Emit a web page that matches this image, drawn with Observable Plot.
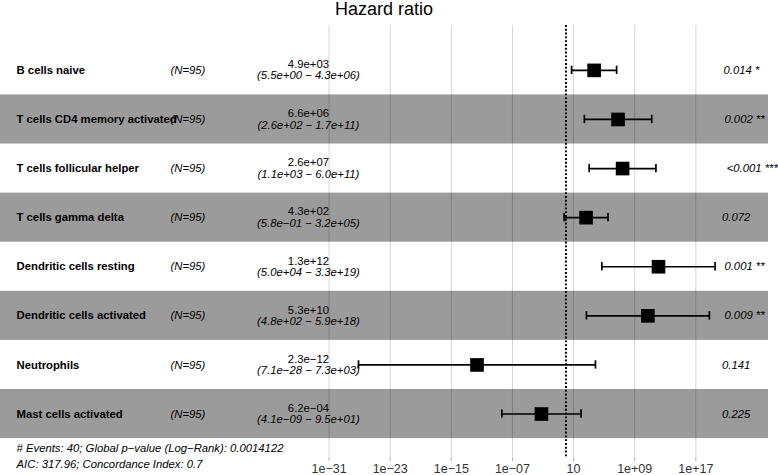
<!DOCTYPE html>
<html>
<head>
<meta charset="utf-8">
<script src="https://cdn.jsdelivr.net/npm/d3@7"></script>
<script src="https://cdn.jsdelivr.net/npm/@observablehq/plot@0.6"></script>
<style>
  body { margin: 0; background: #fff; font-family: "Liberation Sans", Arial, Helvetica, sans-serif; }
  #title { width: 768px; height: 20px; line-height: 18px; font-size: 18px; text-align: center; color: #000; white-space: nowrap; }
  #chart svg { display: block; }
</style>
</head>
<body>
<div id="title">Hazard ratio</div>
<div id="chart"></div>
<script>
// ---- data ----
const variables = [
  "B cells naive",
  "T cells CD4 memory activated",
  "T cells follicular helper",
  "T cells gamma delta",
  "Dendritic cells resting",
  "Dendritic cells activated",
  "Neutrophils",
  "Mast cells activated"
];
const nLabels = ["(N=95)", "(N=95)", "(N=95)", "(N=95)", "(N=95)", "(N=95)", "(N=95)", "(N=95)"];
const hazardRatio = [4.9e3, 6.6e6, 2.6e7, 4.3e2, 1.3e12, 5.3e10, 2.3e-12, 6.2e-4];
const ciLower = [5.5e0, 2.6e2, 1.1e3, 5.8e-1, 5.0e4, 4.8e2, 7.1e-28, 4.1e-9];
const ciUpper = [4.3e6, 1.7e11, 6.0e11, 3.2e5, 3.3e19, 5.9e18, 7.3e3, 9.5e1];
const estimateLabels = ["4.9e+03", "6.6e+06", "2.6e+07", "4.3e+02", "1.3e+12", "5.3e+10", "2.3e\u221212", "6.2e\u221204"];
const ciLabels = [
  "(5.5e+00 \u2212 4.3e+06)",
  "(2.6e+02 \u2212 1.7e+11)",
  "(1.1e+03 \u2212 6.0e+11)",
  "(5.8e\u221201 \u2212 3.2e+05)",
  "(5.0e+04 \u2212 3.3e+19)",
  "(4.8e+02 \u2212 5.9e+18)",
  "(7.1e\u221228 \u2212 7.3e+03)",
  "(4.1e\u221209 \u2212 9.5e+01)"
];
const pLabels = ["0.014 *", "0.002 **", "<0.001 ***", "0.072", "0.001 **", "0.009 **", "0.141", "0.225"];
const xTicks = [1e-31, 1e-23, 1e-15, 1e-7, 10, 1e9, 1e17];
const xTickLabels = ["1e\u221231", "1e\u221223", "1e\u221215", "1e\u221207", "10", "1e+09", "1e+17"];
const referenceValue = [1];
const footerText = "# Events: 40; Global p\u2212value (Log\u2212Rank): 0.0014122\nAIC: 317.96; Concordance Index: 0.7";

// ---- layout ----
const W = 778, H = 455;
const mLeft = 0, mRight = 10, mTop = 5, mBottom = 17;
const xLogMin = -74, xLogMax = 26.51;          // panel spans the full width (ggforest style)
const pxPerDecade = (W - mLeft - mRight) / (xLogMax - xLogMin);
const colLog = { name: -71.9, n: -51.75, est: -33.7, p: 19.69 };
const font = '"Liberation Sans", Arial, Helvetica, sans-serif';
const fs = 11.3;

const rows = variables.map((v, i) => ({
  name: v, n: nLabels[i], hr: hazardRatio[i], lo: ciLower[i], hi: ciUpper[i],
  est: estimateLabels[i], ci: ciLabels[i], p: pLabels[i], row: variables.length - i
}));

const ctx = document.createElement("canvas").getContext("2d");
ctx.font = `italic ${fs}px ${font}`;
const pX = d => 10 ** (colLog.p + 0.2 * ctx.measureText(d.p).width / pxPerDecade);
const capHalf = 0.085;

const chart = Plot.plot({
  width: W, height: H,
  marginLeft: mLeft, marginRight: mRight, marginTop: mTop, marginBottom: mBottom,
  x: { type: "log", domain: [10 ** xLogMin, 10 ** xLogMax] },
  y: { domain: [0.094, 8.914], axis: null },
  style: { fontFamily: font, background: "#fff", color: "#000", overflow: "visible" },
  marks: [
    Plot.rect(rows.filter(d => d.row % 2 === 1), {
      x1: () => 10 ** xLogMin, x2: () => 10 ** xLogMax,
      y1: d => d.row - 0.5, y2: d => d.row + 0.5, fill: "#9b9b9b"
    }),
    Plot.ruleX(xTicks, { stroke: "#000", strokeOpacity: 0.17, strokeWidth: 1 }),
    Plot.axisX(xTicks, {
      tickFormat: d => xTickLabels[xTicks.indexOf(d)],
      tickSize: 3, tickPadding: 3, fontSize: 12.5, stroke: "#aaa", fill: "#333", label: null
    }),
    Plot.ruleX(referenceValue, { stroke: "#000", strokeWidth: 2, strokeDasharray: "1.9,1.9" }),
    Plot.ruleY(rows, { y: "row", x1: "lo", x2: "hi", stroke: "#000", strokeWidth: 1.7 }),
    Plot.ruleX(rows, { x: "lo", y1: d => d.row - capHalf, y2: d => d.row + capHalf, stroke: "#000", strokeWidth: 1.7 }),
    Plot.ruleX(rows, { x: "hi", y1: d => d.row - capHalf, y2: d => d.row + capHalf, stroke: "#000", strokeWidth: 1.7 }),
    Plot.dot(rows, { x: "hr", y: "row", symbol: "square", r: 7.7, fill: "#000", stroke: null }),
    Plot.text(rows, { x: () => 10 ** colLog.name, y: "row", text: "name", textAnchor: "start", fontWeight: "bold", fontSize: fs, fill: "#000" }),
    Plot.text(rows, { x: () => 10 ** colLog.n, y: "row", text: "n", textAnchor: "start", fontStyle: "italic", fontSize: fs, fill: "#000" }),
    Plot.text(rows, { x: () => 10 ** colLog.est, y: "row", text: "est", dy: -5.8, fontSize: fs, fill: "#000" }),
    Plot.text(rows, { x: () => 10 ** colLog.est, y: "row", text: "ci", dy: 5.5, fontStyle: "italic", fontSize: fs, fill: "#000" }),
    Plot.text(rows, { x: pX, y: "row", text: "p", textAnchor: "start", fontStyle: "italic", fontSize: fs, fill: "#000" }),
    Plot.text([footerText], {
      x: () => 10 ** colLog.name, y: () => 0.5, text: d => d, textAnchor: "start",
      lineAnchor: "top", dy: 2, lineHeight: 1.42, fontStyle: "italic", fontSize: fs, fill: "#000"
    })
  ]
});
document.getElementById("chart").appendChild(chart);
</script>
</body>
</html>
